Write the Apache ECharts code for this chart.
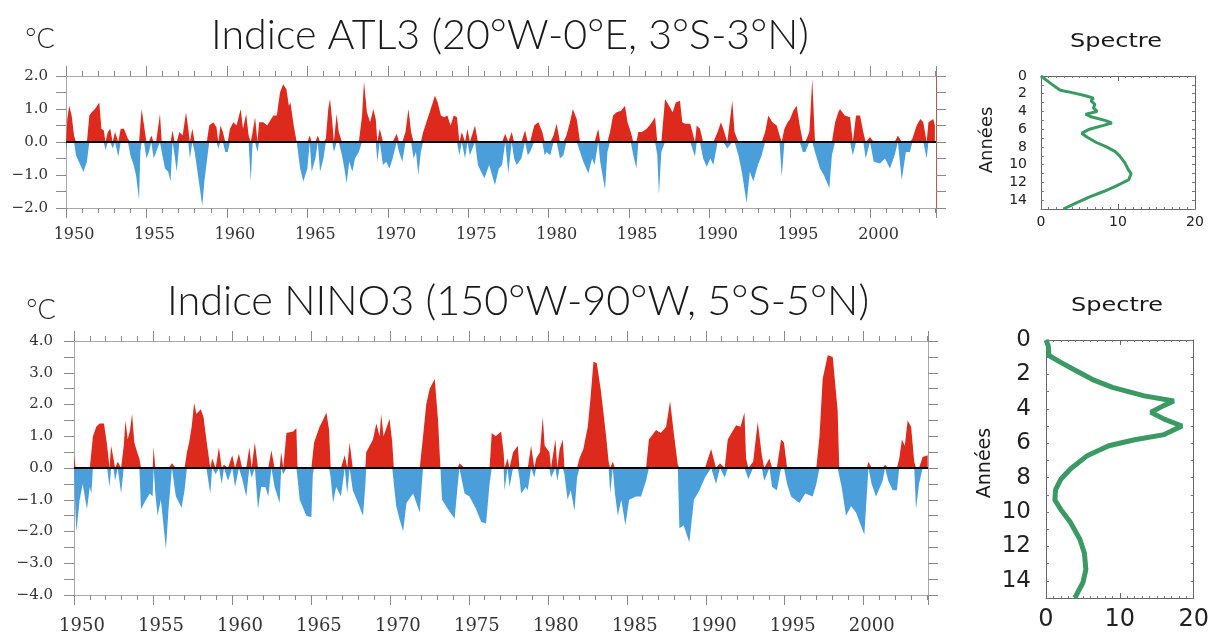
<!DOCTYPE html>
<html><head><meta charset="utf-8">
<script src="https://cdn.jsdelivr.net/npm/echarts@6/dist/echarts.min.js"></script>
<style>html,body{margin:0;padding:0;background:#fff}#c{width:1212px;height:635px}</style>
</head><body><div id="c"></div>
<script>
// ---- ATL3 index (year, °C) ----
const atlYears = [1950.00,1950.08,1950.20,1950.35,1950.50,1950.62,1950.80,1951.08,1951.30,1951.45,1951.60,1951.80,1952.07,1952.20,1952.35,1952.45,1952.60,1952.75,1952.90,1953.05,1953.25,1953.40,1953.60,1953.85,1954.00,1954.20,1954.35,1954.54,1954.62,1954.70,1954.85,1955.00,1955.15,1955.30,1955.45,1955.60,1955.84,1955.95,1956.15,1956.35,1956.50,1956.62,1956.75,1956.88,1957.05,1957.25,1957.46,1957.60,1957.70,1957.85,1958.00,1958.20,1958.47,1958.60,1958.75,1958.90,1959.16,1959.35,1959.47,1959.60,1959.75,1959.90,1960.05,1960.19,1960.40,1960.60,1960.86,1961.00,1961.20,1961.35,1961.48,1961.60,1961.75,1961.90,1962.00,1962.26,1962.50,1962.75,1962.89,1963.10,1963.30,1963.50,1963.70,1963.85,1963.95,1964.15,1964.34,1964.55,1964.75,1965.00,1965.15,1965.27,1965.50,1965.65,1965.79,1966.00,1966.15,1966.30,1966.41,1966.55,1966.65,1966.82,1966.95,1967.15,1967.30,1967.44,1967.60,1967.80,1967.96,1968.20,1968.40,1968.52,1968.70,1968.90,1969.10,1969.25,1969.35,1969.50,1969.70,1969.90,1970.10,1970.30,1970.55,1970.70,1970.90,1971.10,1971.28,1971.45,1971.60,1971.75,1971.90,1972.05,1972.20,1972.40,1972.60,1972.93,1973.10,1973.30,1973.50,1973.70,1973.90,1974.10,1974.30,1974.45,1974.60,1974.80,1974.95,1975.10,1975.42,1975.60,1975.80,1976.00,1976.30,1976.66,1976.90,1977.10,1977.30,1977.49,1977.70,1977.85,1978.01,1978.30,1978.53,1978.70,1978.84,1979.10,1979.36,1979.60,1979.75,1979.87,1980.10,1980.30,1980.49,1980.70,1980.91,1981.10,1981.32,1981.50,1981.74,1981.95,1982.15,1982.46,1982.70,1982.85,1983.08,1983.20,1983.50,1983.65,1983.81,1984.00,1984.22,1984.50,1984.74,1984.90,1985.10,1985.26,1985.45,1985.57,1985.80,1986.09,1986.35,1986.61,1986.75,1986.85,1987.00,1987.23,1987.48,1987.70,1987.90,1988.16,1988.30,1988.47,1988.80,1989.09,1989.20,1989.40,1989.60,1989.82,1990.05,1990.23,1990.50,1990.70,1990.85,1991.10,1991.41,1991.55,1991.79,1992.00,1992.30,1992.50,1992.72,1993.00,1993.24,1993.45,1993.65,1993.90,1994.17,1994.35,1994.48,1994.65,1994.85,1995.00,1995.20,1995.41,1995.60,1995.80,1995.95,1996.20,1996.38,1996.55,1996.86,1997.10,1997.44,1997.60,1997.80,1998.00,1998.10,1998.40,1998.73,1998.90,1999.10,1999.35,1999.55,1999.70,1999.97,2000.20,2000.59,2000.90,2001.21,2001.50,2001.70,2001.94,2002.20,2002.45,2002.60,2002.87,2003.10,2003.28,2003.49,2003.60,2003.90,2004.00];
const atlValues = [-0.3,0.7,1.1,0.8,0.2,-0.4,-0.6,-0.9,-0.6,0.8,0.9,1.0,1.2,0.4,0.35,-0.25,0.3,0.4,-0.2,0.3,-0.45,0.4,0.4,0.1,-0.4,-0.7,-1.0,-1.75,-0.3,1.0,0.5,-0.5,-0.3,0.2,-0.5,-0.3,0.85,-0.3,-0.8,-0.9,-1.2,0.35,-0.4,-0.9,0.3,0.2,0.9,0.4,-0.5,0.4,-0.3,-1.0,-1.93,-1.2,-0.6,0.5,0.6,0.45,-0.2,0.5,0.3,-0.3,-0.3,0.4,0.6,0.5,1.0,0.4,0.85,0.2,-1.2,0.3,0.75,-0.3,0.6,0.6,0.5,0.7,0.8,0.8,1.5,1.75,1.6,1.1,1.2,0.5,0.0,-0.8,-1.2,-0.8,0.2,-0.9,-0.5,0.2,-0.9,-0.5,0.1,1.0,1.3,0.6,-0.3,0.85,0.3,-0.4,-0.8,-1.25,-0.6,-0.9,-0.5,-0.3,0.8,1.83,0.9,0.6,1.0,0.7,-0.6,0.4,-0.7,-0.6,-0.8,-0.5,0.25,-0.3,-0.6,0.3,1.0,0.3,-0.5,-0.3,-1.0,-0.3,0.3,0.6,0.9,1.4,1.2,0.8,0.75,0.8,0.5,0.8,0.75,-0.4,0.3,-0.5,0.4,-0.4,0.5,-0.7,-0.9,-1.1,-0.7,-1.3,-0.8,-0.7,0.25,-0.95,0.3,-0.5,-0.7,-0.5,0.35,-0.4,-0.3,0.5,0.6,0.3,-0.4,-0.3,-0.4,0.2,0.55,-0.5,-0.4,0.2,0.6,1.0,0.7,-0.3,-0.6,-0.95,-0.5,-0.7,0.4,-0.6,-1.45,-0.3,0.3,0.8,0.9,0.95,1.1,0.6,0.3,-0.4,-0.8,0.3,0.3,0.4,0.55,0.75,-0.4,-1.6,-0.3,1.3,1.1,0.9,1.2,1.25,0.6,0.55,0.55,-0.45,0.5,0.4,-0.5,-0.75,-0.5,-0.7,0.3,0.6,0.4,-0.2,1.25,0.3,-0.4,-0.9,-1.85,-0.9,-1.2,-0.7,-0.4,0.3,0.8,0.6,0.5,0.2,-1.05,0.4,0.6,0.7,0.95,1.1,0.5,-0.3,-0.3,0.3,1.9,-0.3,-0.8,-1.0,-1.4,-0.4,0.6,0.9,1.0,0.8,0.75,-0.4,0.8,0.8,0.3,-0.5,0.15,-0.6,-0.65,-0.5,-0.8,-0.4,0.2,-1.15,-0.3,-0.3,0.1,0.5,0.7,0.6,-0.5,0.6,0.7,0.5];

// ---- NINO3 index (year, °C) ----
const ninoYears = [1950.00,1950.10,1950.15,1950.36,1950.55,1950.82,1951.00,1951.10,1951.20,1951.41,1951.62,1951.90,1952.10,1952.25,1952.35,1952.50,1952.60,1952.77,1952.98,1953.15,1953.26,1953.40,1953.55,1953.68,1953.82,1954.00,1954.14,1954.24,1954.56,1954.80,1954.98,1955.04,1955.15,1955.29,1955.50,1955.82,1956.00,1956.20,1956.45,1956.81,1957.00,1957.15,1957.29,1957.45,1957.61,1957.75,1958.03,1958.20,1958.38,1958.63,1958.75,1958.97,1959.18,1959.35,1959.50,1959.75,1960.02,1960.20,1960.44,1960.65,1960.91,1961.10,1961.25,1961.45,1961.65,1961.85,1962.12,1962.30,1962.50,1962.70,1963.02,1963.12,1963.25,1963.45,1963.87,1964.08,1964.15,1964.29,1964.71,1965.03,1965.12,1965.20,1965.55,1965.75,1965.98,1966.15,1966.25,1966.40,1966.60,1966.90,1967.14,1967.30,1967.45,1967.65,1967.90,1968.30,1968.45,1968.50,1968.93,1969.14,1969.35,1969.45,1969.60,1969.98,1970.15,1970.25,1970.40,1970.60,1970.84,1971.05,1971.47,1971.89,1972.10,1972.30,1972.52,1972.84,1973.05,1973.20,1973.30,1973.68,1974.10,1974.30,1974.40,1974.73,1975.04,1975.46,1975.78,1976.09,1976.31,1976.45,1976.70,1977.04,1977.20,1977.26,1977.45,1977.57,1977.80,1978.10,1978.20,1978.31,1978.60,1978.73,1978.94,1979.15,1979.26,1979.50,1979.68,1979.80,1980.10,1980.20,1980.48,1980.60,1980.75,1980.95,1981.05,1981.25,1981.45,1981.69,1981.85,1982.00,1982.25,1982.53,1982.70,1982.89,1983.10,1983.37,1983.69,1983.85,1983.95,1984.11,1984.25,1984.43,1984.65,1984.91,1985.15,1985.59,1985.90,1986.22,1986.40,1986.85,1987.15,1987.49,1987.74,1988.00,1988.23,1988.33,1988.60,1988.96,1989.25,1989.60,1989.95,1990.34,1990.65,1990.90,1991.20,1991.39,1991.92,1992.20,1992.45,1992.55,1992.70,1993.00,1993.29,1993.55,1993.70,1994.03,1994.20,1994.50,1994.77,1994.95,1995.15,1995.40,1995.93,1996.30,1996.77,1997.00,1997.20,1997.40,1997.72,1998.04,1998.35,1998.45,1998.60,1998.88,1999.20,1999.51,2000.04,2000.20,2000.30,2000.50,2000.78,2001.20,2001.35,2001.55,2001.83,2002.10,2002.25,2002.42,2002.60,2002.78,2003.00,2003.20,2003.31,2003.50,2003.73,2004.05];
const ninoValues = [0.4,-1.5,-2.0,-1.0,-0.5,-1.3,-0.6,-0.8,1.0,1.3,1.4,1.4,0.7,-0.6,0.7,0.3,-0.4,0.2,-0.8,0.7,1.5,0.9,1.2,1.7,0.8,0.5,0.3,-1.3,-1.0,-0.8,-0.9,0.65,-0.8,-1.5,-1.0,-2.55,-1.2,0.15,-0.9,-1.25,-0.7,0.5,0.8,1.3,2.05,1.7,1.85,1.6,0.9,-0.8,0.3,-0.2,0.65,-0.5,0.1,-0.4,0.4,-0.6,0.45,-0.35,-0.9,0.65,-0.3,0.8,-1.3,-0.6,-0.6,-0.9,0.55,-0.6,-1.1,0.5,-0.2,1.1,1.15,1.25,-0.3,-1.0,-1.5,-1.55,-0.2,0.8,1.3,1.5,1.75,1.2,-0.3,-1.1,-0.6,-0.9,0.4,-0.8,0.8,-0.7,-1.0,-1.5,-0.5,0.5,0.9,1.4,1.0,1.7,1.0,1.55,0.8,-0.5,-1.2,-1.6,-2.0,-1.1,-0.8,-1.4,1.0,2.0,2.5,2.8,1.5,0.0,-1.0,-1.3,-1.6,-0.5,0.15,-0.8,-0.9,-1.3,-1.7,-1.75,-0.5,1.1,1.0,1.15,0.5,-0.7,0.3,-0.6,0.5,0.7,-0.3,-0.8,-0.6,-0.7,0.7,-0.3,0.3,0.5,1.6,0.7,0.5,-0.3,0.9,-0.4,0.6,0.9,-0.2,-1.0,-0.7,-1.35,-0.3,0.3,0.6,1.3,2.2,3.35,3.3,2.4,1.0,0.2,-0.8,0.2,-0.8,-1.5,-1.0,-1.8,-1.0,-0.9,-0.9,-0.4,0.9,1.2,1.1,1.3,2.1,1.0,0.1,-1.9,-1.8,-2.35,-1.0,-0.7,-0.3,0.6,-0.5,0.15,-0.3,0.9,1.35,1.3,1.75,0.3,-0.35,0.2,1.45,0.4,-0.4,0.3,-0.6,-0.7,0.9,0.8,-0.5,-0.9,-1.1,-0.8,-0.9,-0.5,1.0,2.8,3.55,3.5,1.8,0.0,-0.6,-1.5,-1.2,-1.4,-2.1,-0.8,0.2,-0.5,-0.9,-0.4,0.1,-0.4,-0.7,-0.7,0.3,0.9,0.7,1.5,1.3,0.2,-1.3,-0.5,0.35,0.4];

// ---- Spectra (period in years, power) ----
const specAtlYears = [0,0.8,1.3,1.6,1.9,2.25,2.5,2.8,3.2,3.6,4.0,4.3,4.6,5.0,5.3,5.6,6.0,6.45,6.9,7.5,8.0,8.5,9.0,9.8,10.5,11.0,11.7,12.4,13.0,13.6,14.3,15];
const specAtlPower = [0,1.2,2.0,2.5,4.2,5.9,6.8,6.5,7.0,6.8,7.3,5.8,6.5,8.3,9.2,8.0,6.3,5.3,6.0,7.2,8.5,9.6,10.2,10.9,11.3,11.7,11.4,9.8,8.2,6.4,4.6,2.9];
const specNinoYears = [0,0.33,0.9,1.3,1.7,2.3,2.75,3.25,3.55,3.8,4.2,4.6,5.0,5.5,5.8,6.15,6.75,7.5,8.1,8.7,9.3,9.85,10.6,11.6,12.4,13.35,14.1,15];
const specNinoPower = [0,0.3,0.4,2.0,3.7,6.3,9.0,13.3,17.3,16.0,14.2,16.0,18.4,16.0,12.0,8.5,5.5,3.3,2.0,1.3,1.2,2.0,3.3,4.6,5.2,5.4,5.0,3.9];

const yearTickStep = 5;
const RED = '#dd2a1c', BLUE = '#4a9fdb', GREEN = '#3b9a64';

const zip = (a, b) => a.map((v, i) => [v, b[i]]);
const posPart = (t, v) => t.map((x, i) => [x, Math.max(v[i], 0)]);
const negPart = (t, v) => t.map((x, i) => [x, Math.min(v[i], 0)]);
const serif = '"DejaVu Serif"', sans = '"DejaVu Sans"';
const AX = '#a8a8a8', TK = '#8a8a8a';

function yearAxes(grid, labelSize, margin) {
  const base = {type: 'value', gridIndex: grid, min: 1950, max: 2004.07, splitLine: {show: false}};
  return [
    Object.assign({}, base, {position: 'bottom', interval: yearTickStep,
      axisLine: {show: true, onZero: false, lineStyle: {color: AX, width: 1}},
      axisTick: {show: true, inside: false, length: 10, lineStyle: {color: TK}},
      axisLabel: {show: true, margin: margin, fontFamily: serif, fontSize: labelSize, color: '#333', padding: [0,0,0,16],
        formatter: v => (Math.abs(v % 5) < 1e-6 ? String(v) : '')}}),
    Object.assign({}, base, {position: 'bottom', interval: 1, axisLine: {show: false, onZero: false},
      axisTick: {show: true, inside: false, length: 5, lineStyle: {color: TK}}, axisLabel: {show: false}}),
    Object.assign({}, base, {position: 'top', interval: yearTickStep,
      axisLine: {show: true, onZero: false, lineStyle: {color: AX, width: 1}},
      axisTick: {show: true, inside: false, length: 10, lineStyle: {color: TK}}, axisLabel: {show: false}}),
    Object.assign({}, base, {position: 'top', interval: 1, axisLine: {show: false, onZero: false},
      axisTick: {show: true, inside: false, length: 5, lineStyle: {color: TK}}, axisLabel: {show: false}})
  ];
}
function valAxes(grid, lim, margin, rightColor) {
  const base = {type: 'value', gridIndex: grid, min: -lim, max: lim, interval: 0.5, splitLine: {show: false}};
  return [
    Object.assign({}, base, {position: 'left',
      axisLine: {show: true, onZero: false, lineStyle: {color: AX}},
      axisTick: {show: true, inside: false, length: 10, lineStyle: {color: TK}},
      axisLabel: {show: true, margin: margin, fontFamily: serif, fontSize: 15, color: '#333',
        formatter: v => (Math.abs(v - Math.round(v)) < 1e-6 ? (v < 0 ? '\u2212' : '') + Math.abs(v).toFixed(1) : '')}}),
    Object.assign({}, base, {position: 'right',
      axisLine: {show: true, onZero: false, lineStyle: {color: rightColor}},
      axisTick: {show: true, inside: false, length: 10, lineStyle: {color: TK}}, axisLabel: {show: false}})
  ];
}
function specX(grid, size, margin) {
  const base = {type: 'value', gridIndex: grid, min: 0, max: 20, interval: 10, splitLine: {show: false},
    axisLine: {show: true, onZero: false, lineStyle: {color: '#666'}},
    axisTick: {show: true, inside: true, length: 5, lineStyle: {color: '#666'}},
    minorTick: {show: true, splitNumber: 10, length: 2, lineStyle: {color: '#777'}}};
  return [
    Object.assign({}, base, {position: 'bottom', axisLabel: {show: true, margin: margin, fontFamily: sans, fontSize: size, color: '#222'}}),
    Object.assign({}, base, {position: 'top', axisLabel: {show: false}})
  ];
}
function specY(grid, size, margin) {
  const base = {type: 'value', gridIndex: grid, inverse: true, min: 0, max: 15, interval: 1, splitLine: {show: false},
    axisLine: {show: true, onZero: false, lineStyle: {color: '#666'}},
    axisTick: {show: true, inside: true, length: 3, lineStyle: {color: '#777'}}};
  return [
    Object.assign({}, base, {position: 'left', axisLabel: {show: true, margin: margin, fontFamily: sans, fontSize: size, color: '#222',
      formatter: v => (v % 2 === 0 && v < 15 ? String(v) : '')}}),
    Object.assign({}, base, {position: 'right', axisLabel: {show: false}})
  ];
}

const xAxis = [].concat(yearAxes(0, 16, 19), yearAxes(2, 18, 22), specX(1, 14, 6), specX(3, 24, 10));
const yAxis = [].concat(valAxes(0, 2, 18, '#b8574a'), valAxes(2, 4, 21, AX), specY(1, 14, 14), specY(3, 23, 15));

const zeroLine = {silent: true, symbol: 'none', label: {show: false},
  lineStyle: {color: '#000', width: 2, type: 'solid'}, data: [{yAxis: 0}], animation: false};

function areaSeries(xi, yi, data, color, withZero) {
  const s = {type: 'line', xAxisIndex: xi, yAxisIndex: yi, data: data, symbol: 'none', smooth: false,
    lineStyle: {width: 0, color: color}, itemStyle: {color: color}, areaStyle: {color: color, opacity: 1}, z: 2};
  if (withZero) { s.markLine = zeroLine; s.z = 3; }
  return s;
}

function txt(x, y, text, font, opts) {
  return Object.assign({type: 'text', x: x, y: y, silent: true,
    style: {text: text, font: font, fill: '#1a1a1a', align: 'center', verticalAlign: 'middle'}}, opts || {});
}
const thin = s => '300 ' + s + 'px Lato';
const med = s => s + 'px ' + sans;

const option = {
  animation: false,
  backgroundColor: '#fff',
  grid: [
    {left: 66, top: 76, width: 870, height: 132, containLabel: false},
    {left: 1041, top: 76, width: 154, height: 133, containLabel: false},
    {left: 74, top: 341, width: 854, height: 257, containLabel: false},
    {left: 1046, top: 340, width: 152, height: 258, containLabel: false}
  ],
  xAxis: xAxis,
  yAxis: yAxis,
  series: [
    areaSeries(0, 0, posPart(atlYears, atlValues), RED, false),
    areaSeries(0, 0, negPart(atlYears, atlValues), BLUE, true),
    areaSeries(4, 2, posPart(ninoYears, ninoValues), RED, false),
    areaSeries(4, 2, negPart(ninoYears, ninoValues), BLUE, true),
    {type: 'line', xAxisIndex: 8, yAxisIndex: 4, data: zip(specAtlPower, specAtlYears), symbol: 'none',
      lineStyle: {width: 3, color: GREEN}, itemStyle: {color: GREEN}},
    {type: 'line', xAxisIndex: 10, yAxisIndex: 6, data: zip(specNinoPower, specNinoYears), symbol: 'none',
      lineStyle: {width: 5, color: GREEN}, itemStyle: {color: GREEN}}
  ],
  graphic: [
    txt(40, 39, '\u00B0C', thin(27)),
    txt(510, 35, 'Indice ATL3 (20\u00B0W-0\u00B0E, 3\u00B0S-3\u00B0N)', thin(42), {scaleX: 0.98}),
    txt(1116, 42, 'Spectre', med(20), {scaleX: 1.2}),
    txt(987, 140, 'Ann\u00E9es', med(18), {rotation: Math.PI / 2}),
    txt(41, 310, '\u00B0C', thin(27)),
    txt(518, 301, 'Indice NINO3 (150\u00B0W-90\u00B0W, 5\u00B0S-5\u00B0N)', thin(42), {scaleX: 0.986}),
    txt(1117, 306, 'Spectre', med(20), {scaleX: 1.2}),
    txt(985, 463, 'Ann\u00E9es', med(19), {rotation: Math.PI / 2})
  ]
};

const chart = echarts.init(document.getElementById('c'), null, {renderer: 'canvas'});
chart.setOption(option);
</script>
</body></html>
